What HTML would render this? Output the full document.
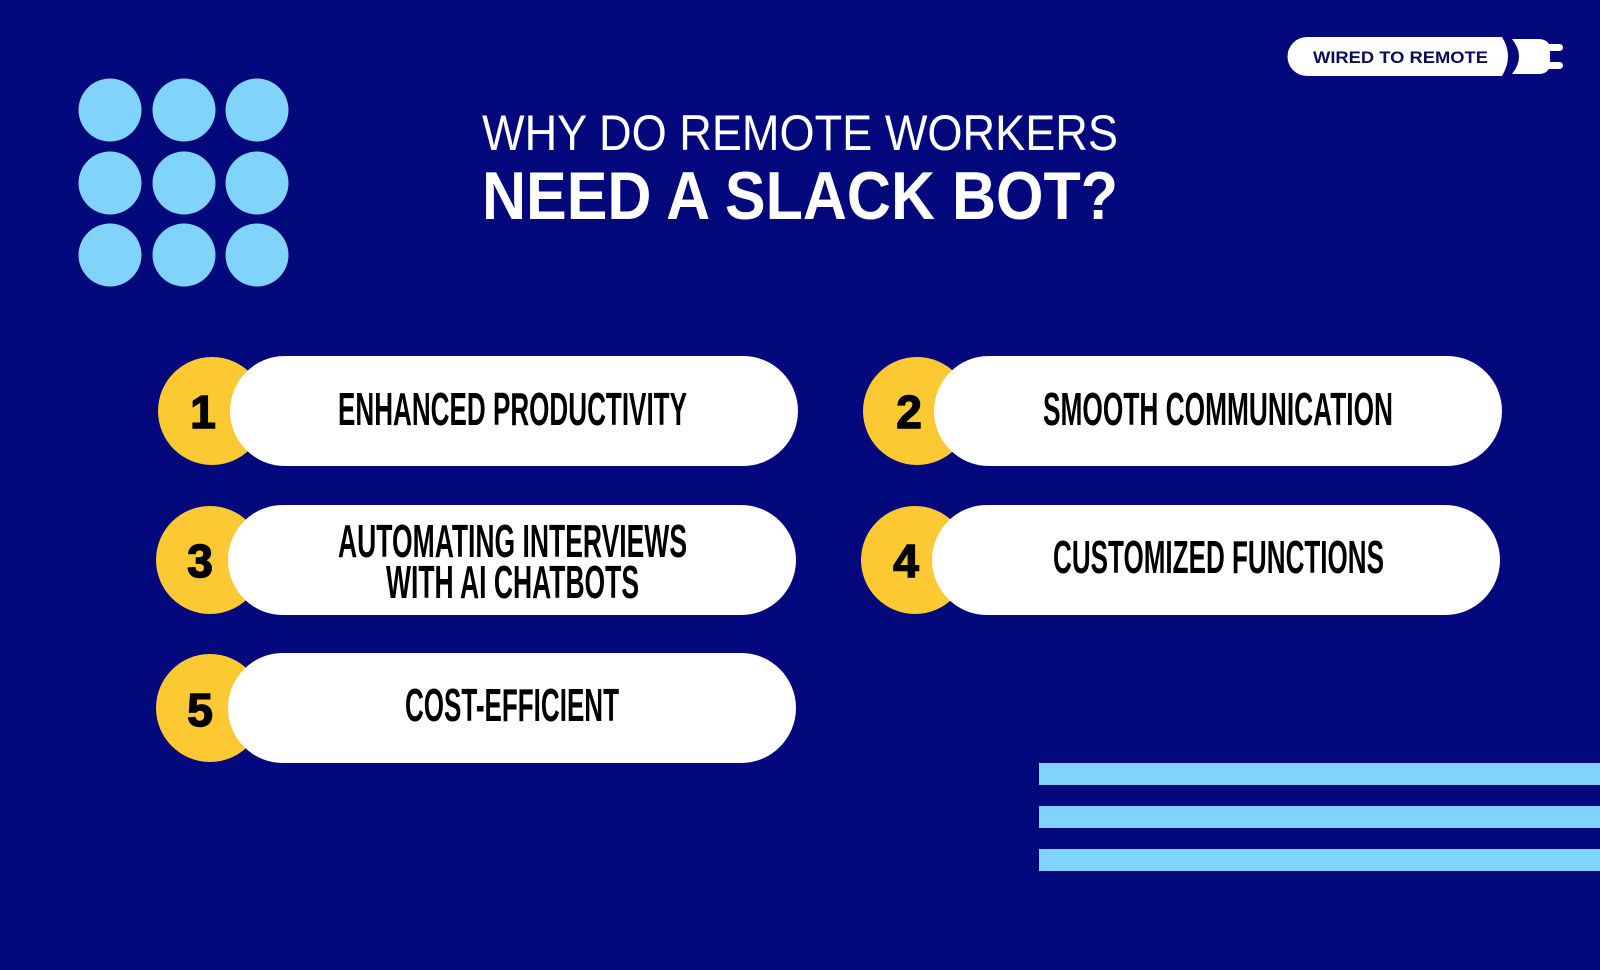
<!DOCTYPE html>
<html><head><meta charset="utf-8"><style>
html,body{margin:0;padding:0;background:#03087d;}
svg{display:block}
</style></head><body>
<svg width="1600" height="970" viewBox="0 0 1600 970" xmlns="http://www.w3.org/2000/svg">
<rect width="1600" height="970" fill="#03087d"/>
<g fill="#80d3fb">
<circle cx="110" cy="110" r="31.5"/><circle cx="184" cy="110" r="31.5"/><circle cx="257" cy="110" r="31.5"/>
<circle cx="110" cy="183" r="31.5"/><circle cx="184" cy="183" r="31.5"/><circle cx="257" cy="183" r="31.5"/>
<circle cx="110" cy="255" r="31.5"/><circle cx="184" cy="255" r="31.5"/><circle cx="257" cy="255" r="31.5"/>
<rect x="1039" y="763" width="561" height="22"/>
<rect x="1039" y="806" width="561" height="22"/>
<rect x="1039" y="849" width="561" height="22"/>
</g>
<g fill="#fff" font-family="Liberation Sans, sans-serif">
<text x="482" y="150" font-size="50" textLength="636" lengthAdjust="spacingAndGlyphs">WHY DO REMOTE WORKERS</text>
<text x="482" y="219" font-size="68" font-weight="bold" textLength="636" lengthAdjust="spacingAndGlyphs">NEED A SLACK BOT?</text>
</g>
<!-- logo -->
<path d="M1307 37 L1502 37 Q1514 56 1502 76 L1307 76 A19.5 19.5 0 0 1 1307 37 Z" fill="#fff"/>
<path d="M1512 39 Q1526 56.5 1512 74 L1538 74 Q1550 74 1550 63 L1550 50 Q1550 39 1538 39 Z" fill="#fff"/>
<rect x="1545" y="44" width="18" height="7" rx="3.5" fill="#fff"/>
<rect x="1545" y="62" width="18" height="7" rx="3.5" fill="#fff"/>
<text x="1313" y="63" font-family="Liberation Sans, sans-serif" font-size="17" font-weight="bold" fill="#0a0d5c" textLength="175" lengthAdjust="spacingAndGlyphs">WIRED TO REMOTE</text>
<!-- items -->
<g>
<circle cx="212" cy="411" r="54" fill="#fcc933"/>
<rect x="230" y="356" width="568" height="110" rx="55" fill="#fff"/>
<circle cx="917" cy="411" r="54" fill="#fcc933"/>
<rect x="934" y="356" width="568" height="110" rx="55" fill="#fff"/>
<circle cx="210" cy="560" r="54" fill="#fcc933"/>
<rect x="228" y="505" width="568" height="110" rx="55" fill="#fff"/>
<circle cx="915" cy="560" r="54" fill="#fcc933"/>
<rect x="932" y="505" width="568" height="110" rx="55" fill="#fff"/>
<circle cx="210" cy="708" r="54" fill="#fcc933"/>
<rect x="228" y="653" width="568" height="110" rx="55" fill="#fff"/>
</g>
<g font-family="Liberation Sans, sans-serif" font-weight="bold" fill="#000" stroke="#000" stroke-width="1.5" text-anchor="middle" font-size="46">
<text x="203" y="428">1</text>
<text x="909" y="428">2</text>
<text x="200" y="577">3</text>
<text x="906" y="577">4</text>
<text x="200" y="726">5</text>
</g>
<g font-family="Liberation Sans, sans-serif" font-weight="bold" fill="#000" font-size="46">
<text x="338" y="425" textLength="349" lengthAdjust="spacingAndGlyphs">ENHANCED PRODUCTIVITY</text>
<text x="1043" y="425" textLength="350" lengthAdjust="spacingAndGlyphs">SMOOTH COMMUNICATION</text>
<text x="338" y="557" textLength="349" lengthAdjust="spacingAndGlyphs">AUTOMATING INTERVIEWS</text>
<text x="386" y="598" textLength="253" lengthAdjust="spacingAndGlyphs">WITH AI CHATBOTS</text>
<text x="1053" y="573" textLength="331" lengthAdjust="spacingAndGlyphs">CUSTOMIZED FUNCTIONS</text>
<text x="405" y="721" textLength="214" lengthAdjust="spacingAndGlyphs">COST-EFFICIENT</text>
</g>
</svg>
</body></html>
